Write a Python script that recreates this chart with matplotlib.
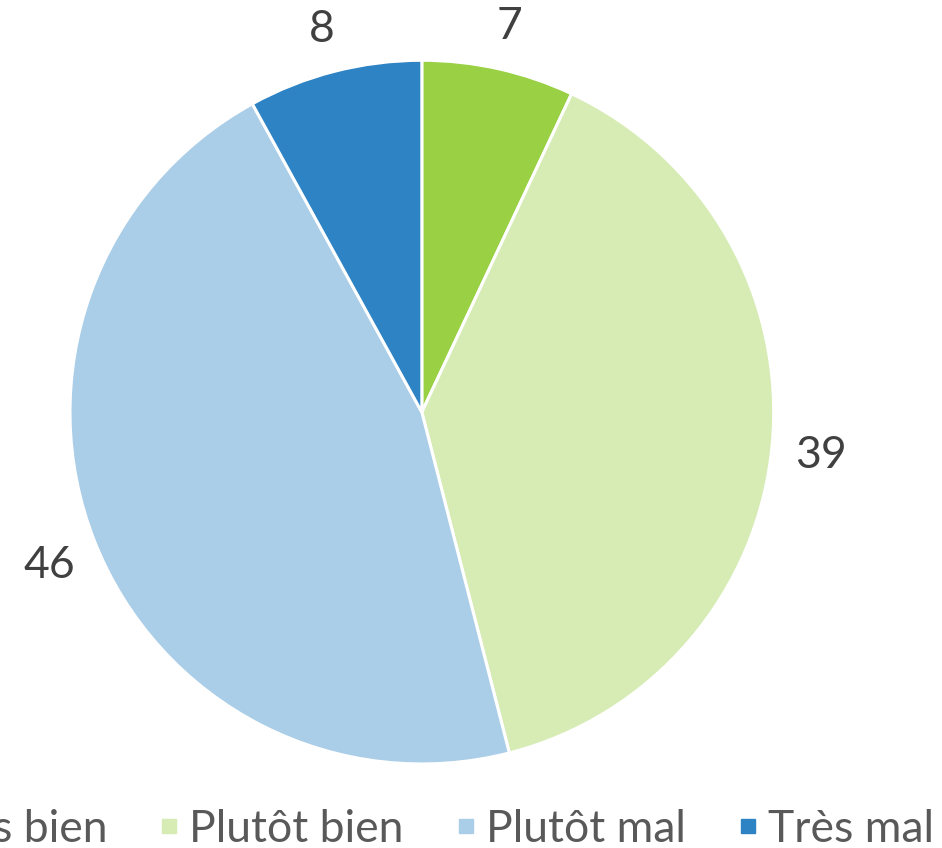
import matplotlib.pyplot as plt
from matplotlib.lines import Line2D

# data
categories = ["Très bien", "Plutôt bien", "Plutôt mal", "Très mal"]
values = [7, 39, 46, 8]
colors = ["#99d044", "#d6ecb4", "#aacde8", "#2e83c4"]

plt.rcParams['font.family'] = ['Lato', 'DejaVu Sans']

fig = plt.figure(figsize=(9.42, 8.48), dpi=100)
ax = fig.add_axes([0.0743, 0.099, 0.747, 0.830])

wedges, texts, autotexts = ax.pie(
    values, colors=colors, startangle=90, counterclock=False,
    wedgeprops=dict(edgecolor="white", linewidth=2.2),
    autopct=lambda p: f"{p:.0f}", pctdistance=1.14,
    textprops=dict(fontsize=32, color="#404040"))
# nudge the value labels down a little (Lato sits high)
for t in autotexts:
    x, y = t.get_position()
    t.set_position((x, y - 0.016))
ax.set_aspect("equal")
ax.set_xlim(-1, 1)
ax.set_ylim(-1, 1)

handles = [Line2D([], [], marker="s", linestyle="none", markersize=9.5,
                  markerfacecolor=c, markeredgecolor=c) for c in colors]
fig.legend(handles, categories, loc="center right", ncol=4,
           bbox_to_anchor=(974 / 942, 19 / 848), frameon=False,
           fontsize=32, labelcolor="#595959", handletextpad=0.15,
           columnspacing=1.1, handlelength=0.6)

fig.savefig("out.png", dpi=100)
